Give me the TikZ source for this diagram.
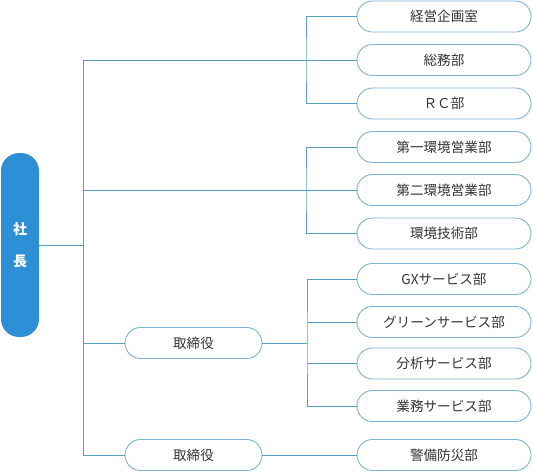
\documentclass[tikz,border=0pt]{standalone}
\usepackage{fontspec}
\setmainfont{Noto Sans CJK JP}
\usetikzlibrary{positioning}

\definecolor{presblue}{HTML}{2D8FD5}
\definecolor{linkblue}{HTML}{5B9DC0}
\definecolor{rimblue}{HTML}{7FB3D3}

\begin{document}
\begin{tikzpicture}[
  x=1pt, y=-1pt,
  conn/.style={draw=linkblue, line width=0.8pt},
  unitbox/.style={draw=rimblue, line width=0.9pt, rounded corners=15.5pt,
    minimum width=174pt, minimum height=31pt, inner sep=0pt,
    font=\fontsize{13.6}{15}\selectfont, text=black!80},
  execbox/.style={unitbox, minimum width=137pt},
  presbox/.style={fill=presblue, rounded corners=18pt, minimum width=38pt,
    minimum height=184pt, inner sep=0pt, text=white,
    font=\bfseries\fontsize{14}{32}\selectfont, align=center},
]
  \useasboundingbox (0,0) rectangle (533,472);

  % President
  \node[presbox] (pres) at (20,245) {社\\長};

  % Departments, top to bottom
  \node[unitbox] (u1)  at (444,16.5)  {経営企画室};
  \node[unitbox] (u2)  at (444,60)    {総務部};
  \node[unitbox] (u3)  at (444,103.5) {ＲＣ部};
  \node[unitbox] (u4)  at (444,147)   {第一環境営業部};
  \node[unitbox] (u5)  at (444,190)   {第二環境営業部};
  \node[unitbox] (u6)  at (444,233.5) {環境技術部};
  \node[unitbox] (u7)  at (444,279)   {GXサービス部};
  \node[unitbox] (u8)  at (444,322)   {グリーンサービス部};
  \node[unitbox] (u9)  at (444,363.5) {分析サービス部};
  \node[unitbox] (u10) at (444,406)   {業務サービス部};
  \node[unitbox] (u11) at (444,455)   {警備防災部};

  % Directors
  \node[execbox] (e1) at (193.5,343) {取締役};
  \node[execbox] (e2) at (193.5,455) {取締役};

  % Trunk and junctions
  \coordinate (Tmid) at (83,245);
  \coordinate (TA)   at (83,60);
  \coordinate (TB)   at (83,190);
  \coordinate (TC)   at (83,343);
  \coordinate (TD)   at (83,455);
  \coordinate (GA)   at (306,60);
  \coordinate (GB)   at (306,190);
  \coordinate (GC)   at (307,343);

  \draw[conn] (pres.east) -- (Tmid);
  \draw[conn] (TA) -- (TD);

  % Group A
  \draw[conn] (TA) -- (GA);
  \draw[conn] (u1.west) -| (GA) |- (u3.west);
  \draw[conn] (GA) -- (u2.west);

  % Group B
  \draw[conn] (TB) -- (GB);
  \draw[conn] (u4.west) -| (GB) |- (u6.west);
  \draw[conn] (GB) -- (u5.west);

  % Group C, under the first director
  \draw[conn] (TC) -- (e1.west);
  \draw[conn] (e1.east) -- (GC);
  \draw[conn] (u7.west) -| (GC) |- (u10.west);
  \draw[conn] (u8.west) -- (u8.west -| GC);
  \draw[conn] (u9.west) -- (u9.west -| GC);

  % Second director
  \draw[conn] (TD) -- (e2.west);
  \draw[conn] (e2.east) -- (u11.west);
\end{tikzpicture}
\end{document}
